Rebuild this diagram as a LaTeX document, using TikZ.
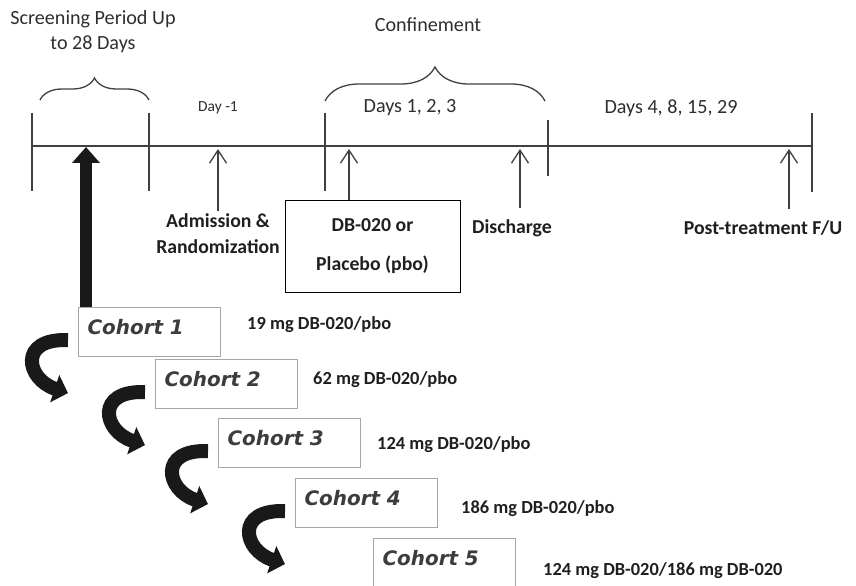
\documentclass[tikz,border=0pt]{standalone}
\usepackage{fontspec}
\setmainfont{Carlito}
\newfontfamily\cohortfamily{DejaVu Sans}
\usetikzlibrary{arrows.meta,decorations.pathreplacing}

\definecolor{inkgray}{HTML}{2E2E2E}
\definecolor{linegray}{HTML}{404040}
\definecolor{boxgray}{HTML}{A6A6A6}
\definecolor{cohortgray}{HTML}{3C3C3C}

\tikzset{
  phase/.style = {font=\fontsize{20.2}{25}\selectfont, text=inkgray, align=center},
  event/.style = {font=\bfseries\fontsize{19.8}{26}\selectfont, text=black!88, align=center},
  dose/.style = {font=\bfseries\fontsize{18.5}{20}\selectfont, anchor=west, inner sep=0pt, text=black!88},
  cohort/.style = {draw=boxgray, line width=1.2bp, fill=white, anchor=north west,
    minimum width=142bp, text width=124bp, inner xsep=9bp, inner ysep=4bp,
    text height=23bp, text depth=18bp, align=left, text=cohortgray,
    font=\cohortfamily\bfseries\itshape\fontsize{20}{24}\selectfont},
  tick/.style = {draw=linegray, line width=1.5bp},
  bracket/.style = {draw=linegray, line width=1.3bp, decorate, decoration={brace,amplitude=#1}},
  uparrow/.style = {draw=linegray, line width=1.3bp, -{Straight Barb[length=13bp,width=17bp]}},
  bigarrow/.style = {draw=black!90, line width=12bp, -{Triangle[length=16bp,width=27bp]}},
  curvy/.style = {draw=black!90, line width=14bp, -{Triangle[length=14bp,width=28bp]}}
}

\begin{document}
\begin{tikzpicture}[x=1bp,y=-1bp]
  \useasboundingbox (0,0) rectangle (856,586);

  % time line and its ticks
  \coordinate (tlL) at (32,146);
  \coordinate (tlR) at (812,146);
  \coordinate (tip) at (0,149);
  \draw[tick] (tlL) -- (tlR);
  \foreach \x/\a/\b in {32/113/191,149/113/191,325/113/191,548/120/176,812/113/192}
    \draw[tick] (\x,\a) -- (\x,\b);

  \draw[bracket=22bp] (40,100) -- (149,100);
  \draw[bracket=34bp] (325,101) -- (545,101);

  % periods
  \node[phase] (screen) at (93,32) {Screening Period Up\\to 28 Days};
  \node[phase] (conf) at (428,25) {Confinement};
  \node[phase, font=\fontsize{15.5}{18}\selectfont] (dayneg) at (218,108) {Day -1};
  \node[phase] (days123) at (410,108) {Days 1, 2, 3};
  \node[phase] (daysfu) at (671,108) {Days 4, 8, 15, 29};

  % events
  \node[event] (adm) at (218,234) {Admission \&\\Randomization};
  \node[event, draw=black, line width=0.9bp, minimum width=175bp, minimum height=92bp]
    (drug) at (372.5,246) {DB-020 or\\[13bp]Placebo (pbo)};
  \node[event] (dis) at (512,228) {Discharge};
  \node[event] (post) at (763,228) {Post-treatment F/U};

  \draw[uparrow] (adm.north) -- (adm.north |- tip);
  \draw[uparrow] ([xshift=-23.5bp]drug.north) -- ([xshift=-23.5bp]drug.north |- tip);
  \draw[uparrow] ([xshift=8bp,yshift=8bp]dis.north) -- ([xshift=8bp]dis.north |- tip);
  \draw[uparrow] ([xshift=26bp,yshift=8bp]post.north) -- ([xshift=26bp]post.north |- tip);

  % cohorts
  \foreach \i/\x/\y in {1/78/307,2/155/359,3/218/418,4/295/478,5/373/538}
    \node[cohort] (c\i) at (\x,\y) {Cohort \i};

  \node[dose] (d1) at (247,325) {19 mg DB-020/pbo};
  \node[dose] (d2) at (313,380) {62 mg DB-020/pbo};
  \node[dose] (d3) at (377,445) {124 mg DB-020/pbo};
  \node[dose] (d4) at (461,509) {186 mg DB-020/pbo};
  \node[dose] (d5) at (543,571) {124 mg DB-020/186 mg DB-020};

  \coordinate (entry) at (86,147);
  \draw[bigarrow] (c1.north -| entry) -- (entry);

  \foreach \i in {1,...,4}
    \draw[curvy] ([xshift=-10bp,yshift=-8bp]c\i.west)
      .. controls +(-50,-2) and +(-42,-14) .. +(0,53);

\end{tikzpicture}
\end{document}
